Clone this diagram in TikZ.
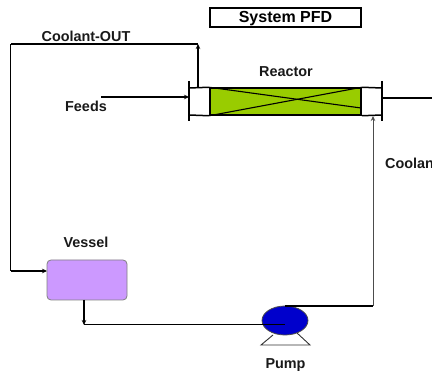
\documentclass[tikz,border=0pt]{standalone}
\usepackage{fontspec}
\setmainfont{Liberation Sans}
\usetikzlibrary{arrows.meta,shapes.geometric}
\definecolor{reactorgreen}{HTML}{99CC00}
\definecolor{vesselviolet}{HTML}{CC99FF}
\definecolor{pumpblue}{HTML}{0000CC}
\tikzset{
  lbl/.style={inner sep=0pt,font=\fontsize{14.4}{16}\selectfont\bfseries,text=black!90},
  pipe/.style={line width=1.4pt,draw=black},
  flow/.style={pipe,-{Stealth[length=5pt,width=4.5pt]}},
  wall/.style={line width=1.5pt,draw=black}
}
\begin{document}
\begin{tikzpicture}[x=1pt,y=-1pt]
\useasboundingbox (0,0) rectangle (432,374);
\clip (0,0) rectangle (432,374);
\node[draw=black,line width=1.5pt,minimum width=151pt,minimum height=19pt,inner sep=0pt,text height=11.6pt,text depth=2pt,font=\fontsize{16}{18}\selectfont\bfseries] (title) at (285.5,17.5) {System PFD};
\node[lbl] (lout) at (86,36) {Coolant-OUT};
\node[lbl] (lreact) at (286,72) {Reactor};
\node[lbl] (lfeeds) at (86,106) {Feeds};
\node[lbl,anchor=west] (lin) at (385,163.5) {Coolant};
\node[lbl] (lvessel) at (86,242) {Vessel};
\node[lbl] (lpump) at (285.5,365) {Pump};
% reactor
\node[fill=reactorgreen,draw=black,line width=1.5pt,minimum width=151pt,minimum height=27pt,inner sep=0pt] (core) at (285.5,101.5) {};
\coordinate (xend) at (361,108);
\draw[line width=1.1pt] (core.north west) -- (xend);
\draw[line width=1.1pt] (core.south west) -- (core.north east);
\coordinate (lt) at (189,88); \coordinate (lb) at (189,115);
\coordinate (rt) at (382,88); \coordinate (rb) at (382,115);
\draw[wall] (lt) -- (core.north west) (lb) -- (core.south west);
\draw[wall] (core.north east) -- (rt) (core.south east) -- (rb);
\draw[wall] (189,81) -- (189,121);
\draw[wall] (382,81) -- (382,121);
% vessel
\node[fill=vesselviolet,draw=black!50,line width=.8pt,rounded corners=4pt,minimum width=80pt,minimum height=40pt,inner sep=0pt] (vessel) at (87,280) {};
% pump
\coordinate (bl) at (261,345); \coordinate (br) at (310,345);
\draw[line width=.9pt,draw=black!80] (273,335) -- (bl) -- (br) -- (297,333);
\node[ellipse,fill=pumpblue,draw=black!70,line width=.8pt,minimum width=46pt,minimum height=29pt,inner sep=0pt] (pump) at (285,320.5) {};
% connectors
\coordinate (feedstart) at (101,97);
\coordinate (feedend) at (189,97);
\coordinate (outstart) at (382,98);
\coordinate (outend) at (432,98);
\coordinate (retup) at (198,88);
\coordinate (rettop) at (198,44);
\coordinate (retleft) at (10.5,44);
\coordinate (retlow) at (10.5,271);
\coordinate (vin) at (47,271);
\coordinate (vout) at (84,300);
\coordinate (vdown) at (84,325);
\coordinate (pin) at (285,324.5);
\coordinate (pout) at (285,306);
\coordinate (pcorner) at (373,306);
\coordinate (rin) at (373,116);
\draw[flow] (feedstart) -- (feedend);
\draw[pipe] (outstart) -- (outend);
\draw[flow] (retup) -- (rettop);
\draw[pipe] (rettop) -- (retleft);
\draw[line width=1pt] (retleft) -- (retlow);
\draw[flow] (retlow) -- (vin);
\draw[flow] (vout) -- (vdown);
\draw[line width=1.9pt] (vdown |- pin) -- (pin);
\draw[pipe] (pout) -- (pcorner);
\draw[line width=1pt,draw=black!70,-{Stealth[length=5pt,width=4.5pt]}] (pcorner) -- (rin);
\end{tikzpicture}
\end{document}
